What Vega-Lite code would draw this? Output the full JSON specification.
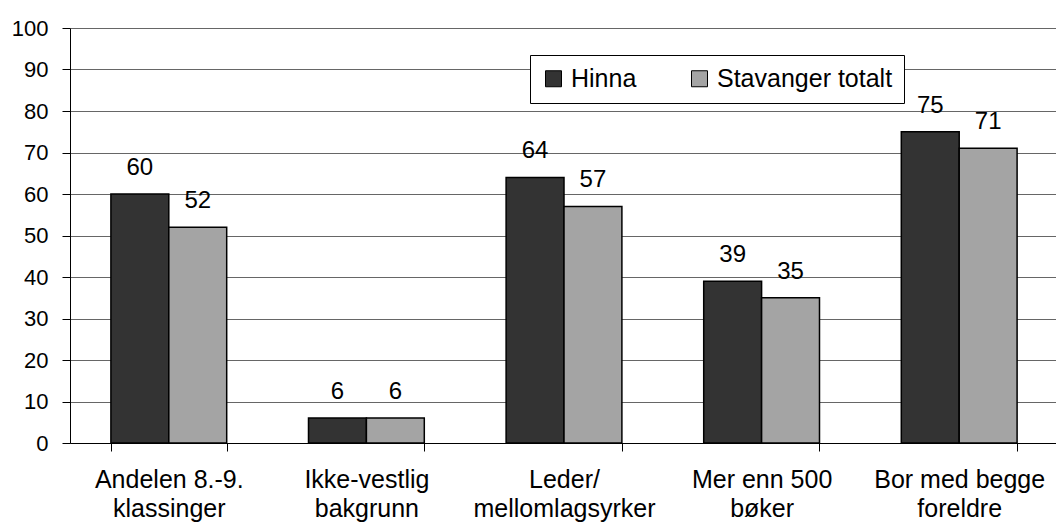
{
  "$schema": "https://vega.github.io/schema/vega-lite/v6.json",
  "autosize": "none",
  "width": 988,
  "height": 415,
  "padding": {"left": 70, "top": 28, "right": 0, "bottom": 84},
  "background": "white",
  "config": {
    "font": "Liberation Sans",
    "view": {"stroke": null},
    "axis": {"labelFont": "Liberation Sans", "labelColor": "black", "domainColor": "black", "tickColor": "black", "titleFont": "Liberation Sans"}
  },
  "data": {
    "values": [
      {"category": "Andelen 8.-9.|klassinger", "series": "Hinna", "value": 60},
      {"category": "Andelen 8.-9.|klassinger", "series": "Stavanger totalt", "value": 52},
      {"category": "Ikke-vestlig|bakgrunn", "series": "Hinna", "value": 6},
      {"category": "Ikke-vestlig|bakgrunn", "series": "Stavanger totalt", "value": 6},
      {"category": "Leder/|mellomlagsyrker", "series": "Hinna", "value": 64},
      {"category": "Leder/|mellomlagsyrker", "series": "Stavanger totalt", "value": 57},
      {"category": "Mer enn 500|bøker", "series": "Hinna", "value": 39},
      {"category": "Mer enn 500|bøker", "series": "Stavanger totalt", "value": 35},
      {"category": "Bor med begge|foreldre", "series": "Hinna", "value": 75},
      {"category": "Bor med begge|foreldre", "series": "Stavanger totalt", "value": 71}
    ]
  },
  "encoding": {
    "x": {
      "field": "category", "type": "nominal", "sort": null,
      "scale": {"paddingInner": 0.414, "paddingOuter": 0.207},
      "axis": {
        "title": null, "labelAngle": 0, "labelFontSize": 25, "labelExpr": "split(datum.label, '|')",
        "labelLineHeight": 29, "labelPadding": 16, "tickSize": 8, "tickBand": "extent", "domainWidth": 1, "labelLimit": 400
      }
    },
    "xOffset": {"field": "series", "type": "nominal", "sort": ["Hinna", "Stavanger totalt"]},
    "y": {
      "field": "value", "type": "quantitative",
      "scale": {"domain": [0, 100], "nice": false},
      "axis": {
        "title": null, "values": [0,10,20,30,40,50,60,70,80,90,100], "labelFontSize": 22, "tickSize": 8,
        "labelPadding": 14, "grid": true, "gridColor": "#666666", "gridWidth": 1
      }
    }
  },
  "layer": [
    {
      "mark": {"type": "bar", "stroke": "black", "strokeWidth": 1.5},
      "encoding": {
        "color": {
          "field": "series", "type": "nominal", "sort": ["Hinna", "Stavanger totalt"],
          "scale": {"domain": ["Hinna", "Stavanger totalt"], "range": ["#333333", "#a4a4a4"]},
          "legend": {
            "title": null, "orient": "none", "legendX": 460, "legendY": 27, "direction": "horizontal",
            "symbolType": "square", "symbolSize": 256, "symbolStrokeColor": "black", "symbolStrokeWidth": 1,
            "labelFontSize": 25, "labelFont": "Liberation Sans", "labelColor": "black", "labelOffset": 5,
            "columnPadding": 50, "padding": 11, "strokeColor": "black", "fillColor": "white", "labelLimit": 400
          }
        }
      }
    },
    {
      "mark": {"type": "text", "baseline": "alphabetic", "dy": -19, "fontSize": 24, "font": "Liberation Sans", "color": "black"},
      "encoding": {"text": {"field": "value", "type": "quantitative"}}
    }
  ]
}
